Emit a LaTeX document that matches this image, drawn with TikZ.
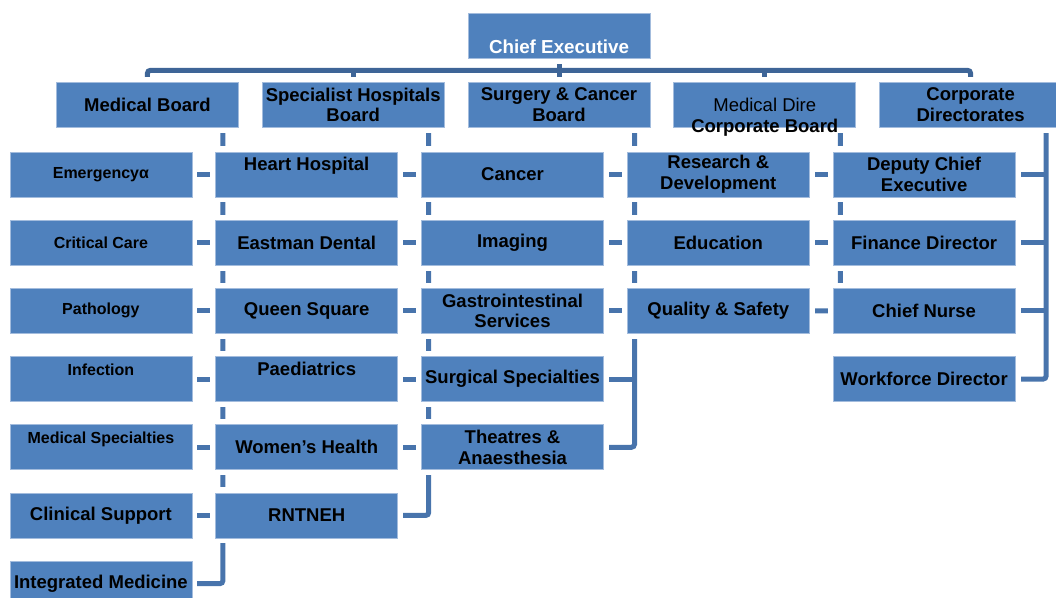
\documentclass[tikz,border=0pt]{standalone}
\usepackage{fontspec}
\setmainfont{Liberation Sans}
\usetikzlibrary{positioning,backgrounds,calc}
\definecolor{OrgBlue}{HTML}{4F81BD}
\definecolor{OrgEdge}{HTML}{A3BCDD}
\definecolor{OrgLink}{HTML}{4874AC}
\definecolor{OrgBus}{HTML}{3E6597}

\begin{document}
\begin{tikzpicture}[x=1pt,y=1pt,
  unit/.style={fill=OrgBlue,draw=OrgEdge,line width=0.7pt,
               preaction={draw=white,line width=11pt},
               minimum width=182pt,minimum height=45pt,inner sep=1pt,outer sep=0pt,
               align=center,font=\bfseries\fontsize{18.5}{20.7}\selectfont},
  minor/.style={font=\bfseries\fontsize{16}{18}\selectfont},
  raised/.style={text height=12pt,text depth=20pt},
  lowered/.style={text height=36pt,text depth=0pt},
  link/.style={draw=OrgLink,line width=5pt,rounded corners=3pt},
  bus/.style={draw=OrgBus,line width=5pt,rounded corners=3pt}
]
\useasboundingbox (0,0) rectangle (1056,-597);

\node[unit,lowered,text=white,font=\bfseries\fontsize{18.8}{21}\selectfont] (ce) at (559,-35.75) {Chief Executive};

% boards
\node[unit,below=24.2pt of ce] (scb) {Surgery \& Cancer\\Board};
\node[unit,left=23.8pt of scb] (shb) {Specialist Hospitals\\Board};
\node[unit,left=23.8pt of shb] (mb) {Medical Board};
\node[unit,right=23.8pt of scb,font=\fontsize{18.5}{20.7}\selectfont,
      label={[anchor=center,font=\bfseries\fontsize{18.5}{20.7}\selectfont]south:Corporate Board}] (mdb) {Medical Dire};
\node[unit,right=23.8pt of mdb] (cdir) {Corporate\\Directorates};

% medical board
\node[unit,minor,below=24.5pt of mb,xshift=-46.5pt] (emerg) {Emergencyα};
\node[unit,minor,below=23.2pt of emerg] (crit) {Critical Care};
\node[unit,minor,below=23.2pt of crit] (path) {Pathology};
\node[unit,minor,raised,below=23.2pt of path] (infec) {Infection};
\node[unit,minor,raised,below=23.2pt of infec] (medspec) {Medical Specialties};
\node[unit,below=23.2pt of medspec] (clinsup) {Clinical Support};
\node[unit,below=23.2pt of clinsup] (intmed) {Integrated Medicine};

% specialist hospitals
\node[unit,raised,below=24.5pt of shb,xshift=-46.5pt] (heart) {Heart Hospital};
\node[unit,below=23.2pt of heart] (eastman) {Eastman Dental};
\node[unit,below=23.2pt of eastman] (queensq) {Queen Square};
\node[unit,raised,below=23.2pt of queensq] (paeds) {Paediatrics};
\node[unit,below=23.2pt of paeds] (womens) {Women’s Health};
\node[unit,below=23.2pt of womens] (rntneh) {RNTNEH};

% surgery & cancer
\node[unit,below=24.5pt of scb,xshift=-46.5pt] (cancer) {Cancer};
\node[unit,below=23.2pt of cancer] (imaging) {Imaging};
\node[unit,below=23.2pt of imaging] (gastro) {Gastrointestinal\\Services};
\node[unit,below=23.2pt of gastro] (surgspec) {Surgical Specialties};
\node[unit,below=23.2pt of surgspec] (theatres) {Theatres \&\\Anaesthesia};

% medical director
\node[unit,below=24.5pt of mdb,xshift=-46.5pt] (research) {Research \&\\Development};
\node[unit,below=23.2pt of research] (educ) {Education};
\node[unit,below=23.2pt of educ] (quality) {Quality \& Safety};

% corporate
\node[unit,below=24.5pt of cdir,xshift=-46.5pt] (dce) {Deputy Chief\\Executive};
\node[unit,below=23.2pt of dce] (finance) {Finance Director};
\node[unit,below=23.2pt of finance] (nurse) {Chief Nurse};
\node[unit,below=23.2pt of nurse] (workforce) {Workforce Director};

\begin{scope}[on background layer]
  \coordinate (busline) at ($(ce.south)!0.5!(scb.north)$);
  \draw[bus] (mb.north) |- (busline) -| (cdir.north);
  \draw[bus] (ce.south) -- (scb.north);
  \foreach \b in {shb,mdb} \draw[bus] (\b.north) -- (\b.north |- busline);
  \foreach \top/\kids/\last in {mb/{emerg,crit,path,infec,medspec,clinsup}/intmed,
      shb/{heart,eastman,queensq,paeds,womens}/rntneh,
      scb/{cancer,imaging,gastro,surgspec}/theatres,
      mdb/{research,educ}/quality,
      cdir/{dce,finance,nurse}/workforce}{
    \draw[link] ($(\last.east |- \top.south)+(31pt,0)$) |- (\last.east);
    \foreach \k in \kids {\draw[link] (\k.east) -- ++(31pt,0);}
  }
\end{scope}
\end{tikzpicture}
\end{document}
